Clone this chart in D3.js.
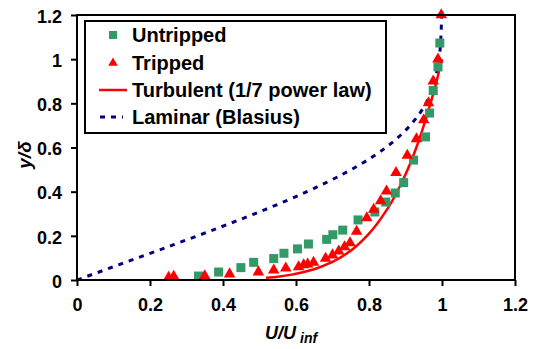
<!DOCTYPE html>
<html>
<head>
<meta charset="utf-8">
<script src="https://cdn.jsdelivr.net/npm/d3@7"></script>
<style>
  html, body { margin: 0; padding: 0; background: #fff; }
  svg { display: block; font-family: "Liberation Sans", Arial, sans-serif; }
</style>
</head>
<body>
<svg id="chart" width="533" height="349"></svg>
<script>
// Boundary-layer velocity profiles: measured (untripped / tripped) vs theory
const untrippedU = [0.333, 0.388, 0.449, 0.484, 0.539, 0.567, 0.604, 0.634, 0.684, 0.701, 0.728,
                    0.770, 0.816, 0.846, 0.872, 0.895, 0.922, 0.955, 0.966, 0.976, 0.989, 0.994];
const untrippedY = [0.018, 0.036, 0.056, 0.080, 0.097, 0.121, 0.141, 0.163, 0.184, 0.205, 0.226,
                    0.272, 0.308, 0.353, 0.394, 0.441, 0.543, 0.648, 0.756, 0.858, 0.965, 1.073];

const trippedU = [0.251, 0.265, 0.350, 0.418, 0.497, 0.539, 0.572, 0.607, 0.621, 0.632, 0.648,
                  0.681, 0.700, 0.717, 0.733, 0.748, 0.766, 0.794, 0.813, 0.832, 0.848, 0.874,
                  0.905, 0.930, 0.950, 0.963, 0.976, 0.989, 0.998];
const trippedY = [0.012, 0.016, 0.018, 0.027, 0.036, 0.045, 0.054, 0.059, 0.068, 0.072, 0.080,
                  0.098, 0.113, 0.131, 0.150, 0.168, 0.220, 0.281, 0.320, 0.358, 0.402, 0.486,
                  0.564, 0.639, 0.725, 0.802, 0.900, 1.000, 1.200];

// Turbulent (1/7 power law) profile
const turbulentU = [0.518, 0.55, 0.60, 0.65, 0.70, 0.75, 0.80, 0.85, 0.90, 0.93, 0.96, 0.98, 1.00];
const turbulentY = [0.010, 0.015, 0.028, 0.049, 0.082, 0.133, 0.210, 0.321, 0.478, 0.601, 0.752, 0.868, 1.000];

// Laminar (Blasius) profile
const laminarU = [0, 0.133, 0.265, 0.394, 0.517, 0.630, 0.729, 0.812, 0.876, 0.923, 0.956,
                  0.976, 0.988, 0.992, 0.9975, 0.999];
const laminarY = [0, 0.08, 0.16, 0.24, 0.32, 0.40, 0.48, 0.56, 0.64, 0.72, 0.80,
                  0.88, 0.96, 1.00, 1.12, 1.20];

const xTicks = [0, 0.2, 0.4, 0.6, 0.8, 1, 1.2];
const yTicks = [0, 0.2, 0.4, 0.6, 0.8, 1, 1.2];

const legendLabels = ["Untripped", "Tripped", "Turbulent (1/7 power law)", "Laminar (Blasius)"];

const green = "#339966", red = "#ff0000", navy = "#000080";

const svg = d3.select("#chart");
const pLeft = 77, pRight = 515, pTop = 15, pBottom = 280;

const x = d3.scaleLinear().domain([0, 1.2]).range([pLeft, pRight]);
const y = d3.scaleLinear().domain([0, 1.2]).range([pBottom, pTop]);

const tickFmt = d => String(d);

// Axes
const xAxis = svg.append("g").attr("transform", `translate(0,${pBottom})`)
  .call(d3.axisBottom(x).tickValues(xTicks).tickFormat(tickFmt).tickSize(6).tickPadding(10));
const yAxis = svg.append("g").attr("transform", `translate(${pLeft},0)`)
  .call(d3.axisLeft(y).tickValues(yTicks).tickFormat(tickFmt).tickSize(6).tickPadding(9));

[xAxis, yAxis].forEach(g => {
  g.select(".domain").remove();
  g.selectAll(".tick line").attr("stroke", "#000").attr("stroke-width", 2);
  g.selectAll(".tick text").attr("fill", "#000")
    .style("font-size", "18px").style("font-weight", "bold");
});
xAxis.selectAll(".tick text").attr("dy", "0.85em");
yAxis.selectAll(".tick text").attr("dy", "0.4em");

const lineGen = d3.line().x(d => x(d[0])).y(d => y(d[1])).curve(d3.curveMonotoneY);

// Laminar curve
svg.append("path")
  .datum(laminarU.map((u, i) => [u, laminarY[i]]))
  .attr("d", lineGen)
  .attr("fill", "none").attr("stroke", navy).attr("stroke-width", 3)
  .attr("stroke-dasharray", "5,6");

// Turbulent curve
svg.append("path")
  .datum(turbulentU.map((u, i) => [u, turbulentY[i]]))
  .attr("d", lineGen)
  .attr("fill", "none").attr("stroke", red).attr("stroke-width", 2.5);

// Untripped points
const sq = 9;
svg.append("g").selectAll("rect")
  .data(untrippedU.map((u, i) => [u, untrippedY[i]]))
  .join("rect")
  .attr("x", d => x(d[0]) - sq / 2).attr("y", d => y(d[1]) - sq / 2)
  .attr("width", sq).attr("height", sq).attr("fill", green);

// Tripped points
const tri = d3.symbol().type(d3.symbolTriangle).size(58);
svg.append("g").selectAll("path")
  .data(trippedU.map((u, i) => [u, trippedY[i]]))
  .join("path")
  .attr("d", tri)
  .attr("transform", d => `translate(${x(d[0])},${y(d[1])})`)
  .attr("fill", red);

// Plot frame
svg.append("rect")
  .attr("x", pLeft).attr("y", pTop)
  .attr("width", pRight - pLeft).attr("height", pBottom - pTop)
  .attr("fill", "none").attr("stroke", "#000").attr("stroke-width", 2);

// Legend
const lg = svg.append("g");
lg.append("rect").attr("x", 85).attr("y", 21).attr("width", 301).attr("height", 112)
  .attr("fill", "#fff").attr("stroke", "#000").attr("stroke-width", 2);
const rowY = [35, 63, 90, 117];
const symX = 113;
lg.append("rect").attr("x", symX - 4).attr("y", rowY[0] - 4).attr("width", 8).attr("height", 8).attr("fill", green);
lg.append("path").attr("d", d3.symbol().type(d3.symbolTriangle).size(40))
  .attr("transform", `translate(${symX},${rowY[1]})`).attr("fill", red);
lg.append("line").attr("x1", 99).attr("x2", 127).attr("y1", rowY[2]).attr("y2", rowY[2])
  .attr("stroke", red).attr("stroke-width", 2.5);
lg.append("line").attr("x1", 100).attr("x2", 123).attr("y1", rowY[3]).attr("y2", rowY[3])
  .attr("stroke", navy).attr("stroke-width", 3).attr("stroke-dasharray", "5,6");
lg.selectAll("text.lbl").data(legendLabels).join("text")
  .attr("class", "lbl")
  .attr("x", 132).attr("y", (d, i) => rowY[i]).attr("dy", "0.36em")
  .style("font-size", "20px").style("font-weight", "bold").text(d => d);

// Axis titles
const xt = svg.append("text").attr("x", 265).attr("y", 339)
  .style("font-size", "18px").style("font-weight", "bold").style("font-style", "italic");
xt.append("tspan").text("U/U");
xt.append("tspan").attr("dx", 4).attr("dy", 4).style("font-size", "14px").text("inf");

svg.append("text")
  .attr("transform", "translate(31,155) rotate(-90)")
  .attr("text-anchor", "middle")
  .style("font-size", "19px").style("font-weight", "bold").style("font-style", "italic")
  .text("y/δ");
</script>
</body>
</html>
